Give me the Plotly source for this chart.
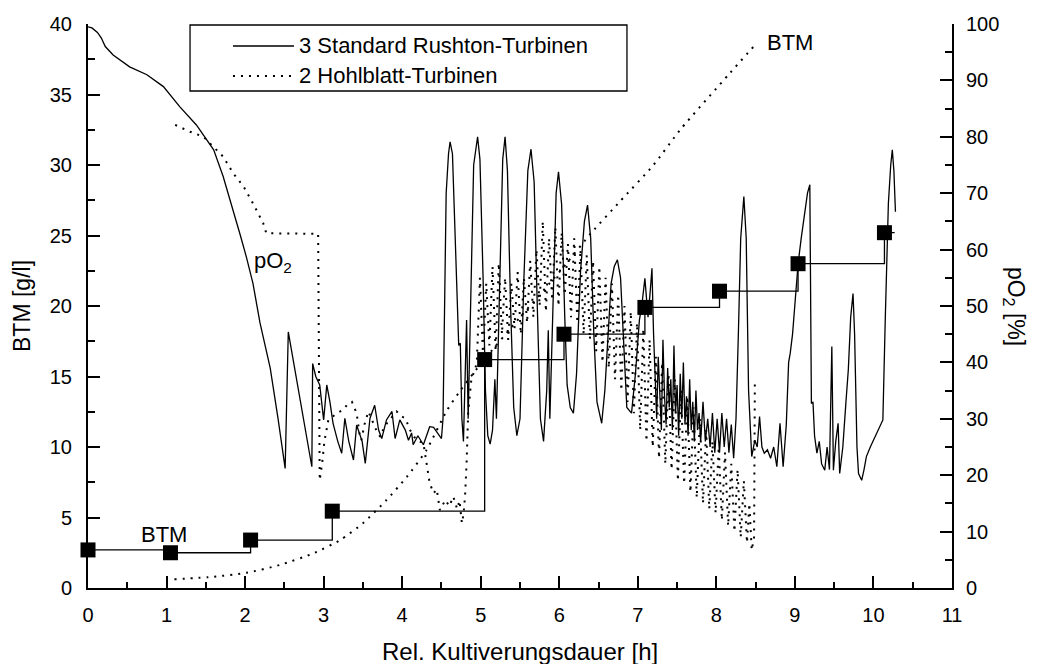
import plotly.graph_objects as go

# ---- Biomass (BTM, g/l), 3 standard Rushton turbines: offline samples ----
btm_rushton_t = [0.0, 1.05, 2.07, 3.11, 5.05, 6.06, 7.09, 8.04, 9.04, 10.14]
btm_rushton = [2.7, 2.5, 3.4, 5.45, 16.2, 18.0, 19.9, 21.05, 23.0, 25.2]
run_end_t = 10.27

# ---- Biomass (BTM, g/l), 2 hollow-blade turbines ----
btm_hohl_t = [1.10, 1.60, 2.02, 2.44, 2.87, 3.21, 3.50, 3.80, 4.06, 4.31, 4.57,
              4.74, 5.00, 5.50, 6.00, 6.41, 6.77, 7.20, 7.54, 8.17, 8.49]
btm_hohl = [0.62, 0.80, 1.08, 1.63, 2.46, 3.40, 4.59, 6.24, 7.89, 9.79, 12.6,
            14.0, 15.9, 19.2, 22.4, 25.2, 27.4, 30.0, 32.5, 36.5, 38.5]

# ---- Dissolved oxygen pO2 (%), 3 standard Rushton turbines ----
po2_rushton_t = [
    0.00, 0.05, 0.12, 0.17, 0.22, 0.32, 0.53, 0.75, 0.96, 1.17, 1.38, 1.60,
    1.72, 1.85, 1.94, 2.02, 2.10, 2.19, 2.32, 2.42, 2.51, 2.55, 2.58, 2.70,
    2.85, 2.86, 2.90, 2.95, 3.00, 3.04, 3.08, 3.12, 3.18, 3.23, 3.27, 3.32,
    3.38, 3.42, 3.46, 3.49, 3.53, 3.59, 3.65, 3.70, 3.74, 3.80, 3.87, 3.91,
    3.97, 4.04, 4.08, 4.12, 4.14, 4.20, 4.27, 4.35, 4.40, 4.45, 4.50, 4.52,
    4.56, 4.59, 4.61, 4.64, 4.68, 4.72, 4.74, 4.76, 4.78, 4.80, 4.82, 4.84,
    4.87, 4.91, 4.96, 4.99, 5.03, 5.06, 5.09, 5.12, 5.15, 5.18, 5.20, 5.24,
    5.28, 5.31, 5.34, 5.38, 5.42, 5.46, 5.50, 5.55, 5.60, 5.64, 5.68, 5.72,
    5.76, 5.80, 5.84, 5.86, 5.88, 5.92, 5.96, 5.99, 6.03, 6.07, 6.10, 6.14,
    6.18, 6.22, 6.27, 6.32, 6.36, 6.40, 6.44, 6.48, 6.54, 6.58, 6.62, 6.66,
    6.70, 6.74, 6.78, 6.82, 6.86, 6.92, 6.97, 7.02, 7.05, 7.09, 7.13, 7.16,
    7.18, 7.20, 7.22, 7.24, 7.26, 7.28, 7.30, 7.32, 7.34, 7.36, 7.38, 7.40,
    7.42, 7.44, 7.46, 7.48, 7.50, 7.52, 7.54, 7.56, 7.58, 7.60, 7.62, 7.64,
    7.66, 7.68, 7.70, 7.72, 7.74, 7.76, 7.78, 7.80, 7.83, 7.86, 7.89, 7.92,
    7.95, 7.98, 8.01, 8.04, 8.07, 8.10, 8.13, 8.16, 8.19, 8.22, 8.25, 8.28,
    8.31, 8.35, 8.38, 8.41, 8.45, 8.49, 8.52, 8.55, 8.58, 8.61, 8.65, 8.69,
    8.73, 8.77, 8.81, 8.85, 8.89, 8.92, 8.94, 8.97, 9.01, 9.04, 9.08, 9.12,
    9.16, 9.19, 9.21, 9.23, 9.25, 9.28, 9.31, 9.34, 9.38, 9.41, 9.44, 9.47,
    9.49, 9.52, 9.55, 9.57, 9.61, 9.65, 9.68, 9.71, 9.74, 9.76, 9.79, 9.81,
    9.85, 9.88, 9.91, 9.96, 10.01, 10.06, 10.12, 10.15, 10.19, 10.22, 10.24,
    10.26, 10.28,
]
po2_rushton = [
    99.5, 99.3, 98.5, 97.5, 96.0, 94.5, 92.4, 91.0, 88.9, 85.3, 82.1, 77.7,
    73.0, 67.0, 62.5, 58.5, 54.0, 47.0, 39.0, 30.0, 21.2, 45.4, 43.0, 33.9,
    21.5, 39.8, 37.5, 36.0, 29.8, 36.0, 33.0, 29.2, 26.0, 23.9, 30.1, 26.0,
    22.7, 28.9, 27.0, 26.0, 22.1, 30.1, 32.4, 28.0, 26.5, 29.8, 31.3, 26.5,
    29.8, 28.0, 26.2, 27.5, 25.4, 27.0, 25.4, 28.6, 28.5, 27.5, 26.5, 30.1,
    70.0, 77.0, 79.1, 77.0, 60.0, 43.0, 43.4, 30.0, 26.0, 40.0, 47.5, 30.0,
    50.0, 75.0, 80.0, 76.0, 55.0, 35.0, 27.0, 25.5, 28.0, 37.0, 30.0, 55.0,
    76.0, 80.0, 74.0, 50.0, 32.0, 27.0, 30.0, 55.0, 74.0, 77.8, 72.0, 50.0,
    30.0, 26.0, 35.0, 45.7, 30.0, 50.0, 70.0, 73.8, 68.0, 48.0, 36.0, 32.0,
    31.0, 38.0, 56.0, 65.0, 67.9, 62.0, 45.0, 33.0, 29.2, 35.0, 45.0, 54.0,
    57.0, 58.2, 55.0, 42.0, 32.0, 31.0, 38.0, 47.5, 50.0, 54.9, 48.0, 53.0,
    56.7, 45.2, 38.0, 30.0, 41.0, 33.0, 28.0, 44.0, 34.0, 29.0, 39.0, 32.0,
    37.0, 28.0, 43.0, 31.0, 36.0, 27.0, 38.0, 30.0, 40.0, 29.0, 34.0, 27.0,
    37.0, 28.0, 33.0, 26.0, 35.0, 28.0, 31.0, 26.0, 33.0, 26.0, 30.0, 25.0,
    31.0, 24.0, 30.0, 24.0, 31.0, 25.0, 30.0, 24.0, 29.0, 23.0, 30.0, 45.0,
    62.0, 69.4, 62.0, 35.0, 23.3, 26.2, 25.0, 30.4, 25.0, 23.9, 24.5, 23.0,
    25.0, 21.5, 29.2, 21.5, 28.9, 40.0, 41.6, 45.0, 52.0, 57.4, 62.0, 66.0,
    70.0, 71.5, 32.7, 33.0, 27.0, 23.9, 26.0, 22.0, 20.9, 25.0, 21.0, 42.8,
    20.9, 26.0, 29.2, 20.3, 25.0, 33.0, 38.7, 48.0, 52.2, 45.0, 25.0, 20.3,
    19.1, 21.0, 23.3, 25.0, 26.5, 28.0, 29.8, 47.5, 68.2, 75.0, 77.7,
    74.0, 66.7,
]

# ---- Dissolved oxygen pO2 (%), 2 hollow-blade turbines ----
po2_hohl_t = [
    1.11, 1.30, 1.47, 1.60, 1.72, 1.85, 1.98, 2.10, 2.23, 2.27, 2.93, 2.95,
    2.98, 3.01, 3.06, 3.17, 3.25, 3.30, 3.36, 3.42, 3.46, 3.48, 3.52, 3.57,
    3.62, 3.67, 3.72, 3.77, 3.82, 3.87, 3.93, 3.98, 4.04, 4.10, 4.18, 4.27,
    4.31, 4.35, 4.40, 4.44, 4.48, 4.52, 4.55, 4.60, 4.65, 4.70, 4.73, 4.76,
    4.78, 4.80, 4.82, 4.84, 4.88, 4.95,
    4.99, 5.03, 5.07, 5.11, 5.15, 5.19, 5.23, 5.27, 5.31, 5.35, 5.39, 5.43,
    5.47, 5.51, 5.55, 5.59, 5.63, 5.67, 5.71, 5.75, 5.79, 5.83, 5.87, 5.91,
    5.95, 5.99, 6.03, 6.07, 6.11, 6.15, 6.19, 6.23, 6.27, 6.31, 6.35, 6.39,
    6.43, 6.47, 6.51, 6.55, 6.59, 6.63, 6.67, 6.71, 6.75, 6.79, 6.83, 6.87,
    6.91, 6.95, 6.99, 7.03, 7.07, 7.11, 7.15, 7.19, 7.23, 7.27, 7.31, 7.35,
    7.39, 7.43, 7.47, 7.51, 7.55, 7.59, 7.63, 7.67, 7.71, 7.75, 7.79, 7.83,
    7.87, 7.91, 7.95, 7.99, 8.03, 8.07, 8.11, 8.15, 8.19, 8.23, 8.27, 8.31,
    8.35, 8.39, 8.42, 8.45, 8.48, 8.49,
]
po2_hohl = [
    82.1, 80.9, 80.0, 78.2, 76.5, 73.5, 71.2, 68.2, 64.7, 62.9, 62.8, 19.1,
    22.0, 26.0, 29.8, 31.0, 31.6, 32.5, 33.0, 31.0, 27.0, 26.2, 29.0, 31.3,
    29.5, 28.0, 26.8, 28.5, 29.5, 30.4, 31.3, 30.5, 30.1, 28.0, 26.2, 25.7,
    22.1, 18.6, 16.8, 17.5, 13.8, 15.0, 15.6, 14.5, 16.2, 14.0, 15.5, 11.5,
    13.0, 16.2, 22.1, 31.0, 36.9, 39.8,
    55.0, 41.0, 54.0, 43.0, 57.0, 42.0, 57.6, 45.0, 55.0, 44.0, 54.0, 46.0,
    56.0, 45.0, 55.0, 47.0, 58.0, 48.0, 60.0, 50.0, 65.0, 49.0, 62.0, 51.0,
    64.0, 50.0, 63.0, 52.0, 61.0, 48.0, 62.0, 47.0, 60.0, 45.0, 59.0, 44.0,
    58.0, 42.0, 57.0, 40.0, 55.0, 39.0, 54.0, 37.0, 52.0, 35.0, 50.0, 33.0,
    49.0, 31.0, 47.0, 28.0, 46.0, 26.0, 44.0, 25.0, 41.0, 23.0, 40.0, 22.0,
    38.0, 21.0, 37.0, 19.0, 35.0, 18.5, 34.0, 17.0, 32.0, 16.0, 30.0, 15.0,
    28.0, 14.0, 26.0, 13.3, 25.0, 12.0, 24.0, 11.0, 22.0, 10.0, 21.0, 9.0,
    19.0, 8.0, 15.0, 6.7, 9.0, 36.6,
]

FONT = "Liberation Sans, Arial, sans-serif"
BLACK = "#000000"
DOTS = "2px,6px"

fig = go.Figure()

# pO2 curves on the right axis
fig.add_trace(go.Scatter(
    x=po2_rushton_t, y=po2_rushton, yaxis="y2", mode="lines",
    line=dict(color=BLACK, width=1.3), showlegend=False, hoverinfo="skip"))
fig.add_trace(go.Scatter(
    x=po2_hohl_t, y=po2_hohl, yaxis="y2", mode="lines",
    line=dict(color=BLACK, width=2, dash=DOTS), showlegend=False,
    hoverinfo="skip"))

# biomass curves on the left axis
fig.add_trace(go.Scatter(
    x=btm_hohl_t, y=btm_hohl, mode="lines",
    line=dict(color=BLACK, width=2, dash=DOTS, shape="spline", smoothing=0.6),
    showlegend=False, hoverinfo="skip"))
fig.add_trace(go.Scatter(
    x=btm_rushton_t + [run_end_t], y=btm_rushton + [btm_rushton[-1]],
    mode="lines", line=dict(color=BLACK, width=1.3, shape="hv"),
    showlegend=False, hoverinfo="skip"))
fig.add_trace(go.Scatter(
    x=btm_rushton_t, y=btm_rushton, mode="markers",
    marker=dict(symbol="square", size=15, color=BLACK),
    cliponaxis=False, showlegend=False, hoverinfo="skip"))

axis_common = dict(
    showline=True, linecolor=BLACK, linewidth=2,
    ticks="inside", ticklen=12, tickwidth=2, tickcolor=BLACK,
    showgrid=False, zeroline=False,
    tickfont=dict(family=FONT, size=20, color=BLACK),
)

fig.update_layout(
    width=1040, height=664,
    margin=dict(l=88, r=88, t=24, b=76),
    paper_bgcolor="white", plot_bgcolor="white",
    font=dict(family=FONT, color=BLACK),
    xaxis=dict(range=[0, 11], dtick=1, tick0=0, ticklabelstandoff=8,
               minor=dict(dtick=0.5, ticks="inside", ticklen=6,
                          tickwidth=2, tickcolor=BLACK),
               **axis_common),
    yaxis=dict(range=[0, 40], dtick=5, tick0=0, ticklabelstandoff=10,
               minor=dict(dtick=2.5, ticks="inside", ticklen=7,
                          tickwidth=2, tickcolor=BLACK),
               **axis_common),
    yaxis2=dict(range=[0, 100], dtick=10, tick0=0, overlaying="y",
                side="right", ticklabelstandoff=8,
                minor=dict(dtick=5, ticks="inside", ticklen=7,
                           tickwidth=2, tickcolor=BLACK),
                **axis_common),
)

# legend frame with line samples
lx0, lx1 = 0.1181, 0.6238
fig.add_shape(type="rect", xref="paper", yref="paper",
              x0=lx0, x1=lx1, y0=0.8812, y1=0.9982,
              line=dict(color=BLACK, width=1.3), fillcolor="white")
legend_rows = [
    ("3 Standard Rushton-Turbinen", 0.961, dict(color=BLACK, width=1.3)),
    ("2 Hohlblatt-Turbinen", 0.908, dict(color=BLACK, width=2, dash=DOTS)),
]
for label, ly, style in legend_rows:
    fig.add_shape(type="line", xref="paper", yref="paper",
                  x0=0.1678, x1=0.2384, y0=ly, y1=ly, line=style)
    fig.add_annotation(text=label, xref="paper", yref="paper",
                       x=0.2419, y=ly, xanchor="left", yanchor="middle",
                       showarrow=False,
                       font=dict(family=FONT, size=22, color=BLACK))

# curve labels
fig.add_annotation(text="pO<sub>2</sub>", x=2.36, y=57.8, yref="y2",
                   xanchor="center", yanchor="middle",
                   showarrow=False, font=dict(family=FONT, size=22))
fig.add_annotation(text="BTM", x=0.97, y=3.83,
                   xanchor="center", yanchor="middle",
                   showarrow=False, font=dict(family=FONT, size=22))
fig.add_annotation(text="BTM", x=8.62, y=38.7, xanchor="left",
                   yanchor="middle",
                   showarrow=False, font=dict(family=FONT, size=22))

# axis titles
fig.add_annotation(text="BTM [g/l]", xref="paper", yref="paper",
                   x=-0.0764, y=0.5, textangle=-90, showarrow=False,
                   xanchor="center", yanchor="middle",
                   font=dict(family=FONT, size=23))
fig.add_annotation(text="pO<sub>2</sub> [%]", xref="paper", yref="paper",
                   x=1.073, y=0.5, textangle=90, showarrow=False,
                   xanchor="center", yanchor="middle",
                   font=dict(family=FONT, size=23))
fig.add_annotation(text="Rel. Kultiverungsdauer [h]", xref="paper",
                   yref="paper", x=0.5, y=-0.112, showarrow=False,
                   xanchor="center", yanchor="middle",
                   font=dict(family=FONT, size=24))

fig.write_html("out.html")
